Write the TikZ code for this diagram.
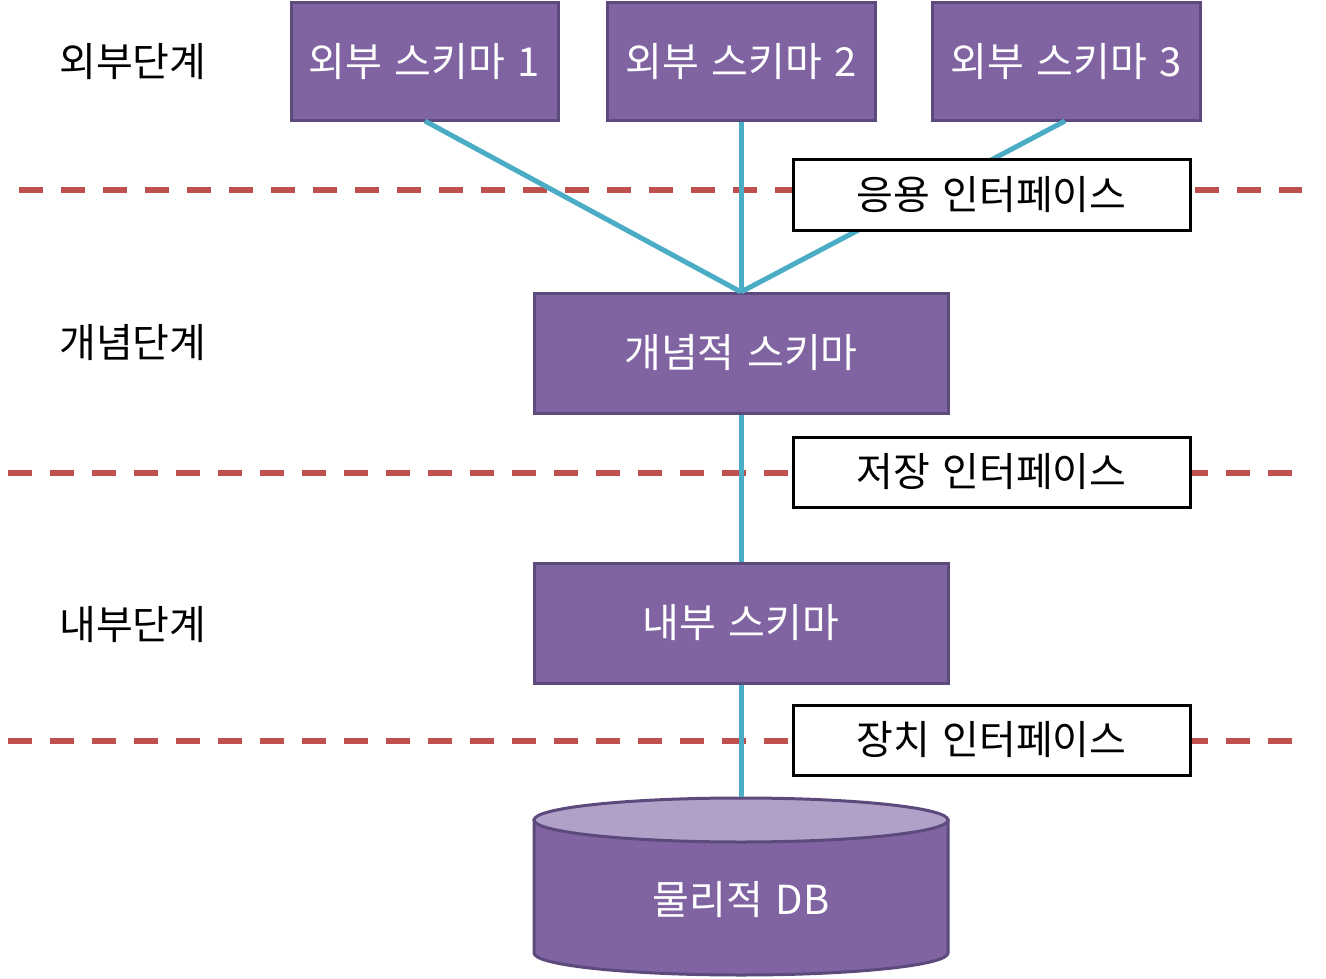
\documentclass[tikz,border=0pt]{standalone}
\usepackage{fontspec}
\setmainfont{Noto Sans CJK KR}[WordSpace={1.4}]
\definecolor{purp}{HTML}{8064A2}
\definecolor{purpdark}{HTML}{5C4A7C}
\definecolor{purplight}{HTML}{B1A0C7}
\definecolor{cyanline}{HTML}{4BACC6}
\definecolor{redline}{HTML}{C0504D}
\tikzset{
  big/.style={font=\fontsize{40}{46}\selectfont},
  schema/.style={draw=purpdark, fill=purp, line width=3pt, text=white, big, inner sep=0pt},
  iface/.style={draw=black, fill=white, line width=3pt, big, minimum width=397pt, minimum height=70pt, inner sep=0pt},
  level/.style={big, anchor=west, inner sep=0pt},
  conn/.style={draw=cyanline, line width=5pt},
  sep/.style={draw=redline, line width=6pt, dash pattern=on 24pt off 18pt}
}
\begin{document}
\begin{tikzpicture}[x=1pt,y=-1pt]
\useasboundingbox (0,0) rectangle (1326,979);
% separators
\coordinate (s1a) at (19,190); \coordinate (s1b) at (1302,190);
\coordinate (s2a) at (8,473);  \coordinate (s2b) at (1292,473);
\coordinate (s3a) at (8,741);  \coordinate (s3b) at (1292,741);
\draw[sep] (s1a) -- (s1b);
\draw[sep] (s2a) -- (s2b);
\draw[sep] (s3a) -- (s3b);
% level labels
\node[level] (l1) at (59,62) {외부단계};
\node[level] (l2) at (59,343) {개념단계};
\node[level] (l3) at (59,625) {내부단계};
% schemas
\node[schema, minimum width=267pt, minimum height=118pt] (e1) at (424.5,62) {외부 스키마 1};
\node[schema, minimum width=268pt, minimum height=118pt] (e2) at (741,62) {외부 스키마 2};
\node[schema, minimum width=268pt, minimum height=118pt] (e3) at (1066,62) {외부 스키마 3};
\node[schema, minimum width=414pt, minimum height=120pt] (con) at (741,353) {개념적 스키마};
\node[schema, minimum width=414pt, minimum height=120pt] (int) at (741,623) {내부 스키마};
% database cylinder
\node[minimum width=414pt, minimum height=178pt, inner sep=0pt] (db) at (741,886) {};
\filldraw[draw=purpdark, fill=purp, line width=3pt] (534,820) -- (534,953) arc[start angle=180, end angle=0, x radius=207, y radius=22] -- (948,820) -- cycle;
\filldraw[draw=purpdark, fill=purplight, line width=3pt] (741,820) ellipse [x radius=207, y radius=22];
\node[text=white, big, inner sep=0pt] (dbl) at (741,900) {물리적 DB};
% connectors
\coordinate (hub) at (741,292);
\draw[conn] (425,121) -- (hub);
\draw[conn] (e2.south) -- (hub);
\draw[conn] (1065,121) -- (hub);
\draw[conn] (con.south) -- (int.north);
\draw[conn] (int.south) -- (db.north);
% interfaces
\node[iface] (i1) at (991.5,195) {응용 인터페이스};
\node[iface] (i2) at (991.5,472) {저장 인터페이스};
\node[iface] (i3) at (991.5,740) {장치 인터페이스};
\end{tikzpicture}
\end{document}
